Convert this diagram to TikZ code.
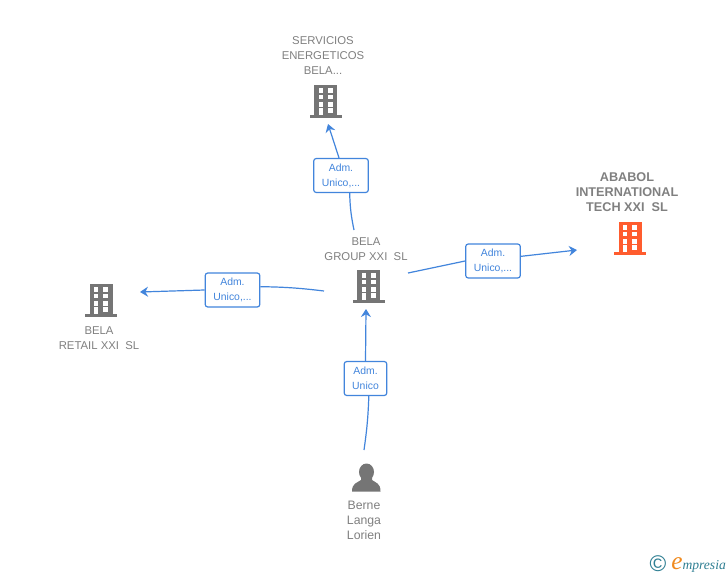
\documentclass[tikz,border=0pt]{standalone}
\usepackage{fontspec}
\setmainfont{Liberation Sans}
\newfontfamily\logofont{Liberation Serif}
\usetikzlibrary{arrows.meta,positioning}
\definecolor{iconGray}{HTML}{757575}
\definecolor{textGray}{HTML}{808080}
\definecolor{linkBlue}{HTML}{4285DC}
\definecolor{iconOrange}{HTML}{FF5C2E}
\definecolor{logoTeal}{HTML}{2F7F93}
\definecolor{logoOrange}{HTML}{F08A1E}
\tikzset{
  firm/.style={align=center, text=textGray, inner sep=0pt, font=\fontsize{8.5pt}{11.25pt}\selectfont},
  firmbold/.style={firm, font=\fontsize{9.5pt}{11.25pt}\selectfont\bfseries},
  person/.style={firm, font=\fontsize{9.2pt}{11.25pt}\selectfont},
  rolebox/.style={rectangle, rounded corners=2pt, draw=linkBlue, line width=0.9pt, fill=white, align=center, text=linkBlue, inner sep=0pt, font=\fontsize{7.8pt}{11.25pt}\selectfont},
  link/.style={draw=linkBlue, line width=0.9pt},
  linkto/.style={link, -{Stealth[length=6pt,width=7.5pt,inset=2pt]}},
  pics/bldg/.style={code={
    \fill[#1] (-11.5,0) rectangle (11.5,31);
    \fill[#1] (-16,30) rectangle (16,33.3);
    \foreach \y in {3.3,10,17.3}{
      \fill[white] (-7,\y) rectangle (-2.7,\y+4.4);
      \fill[white] (2.3,\y) rectangle (7.3,\y+4.4);
    }
    \fill[white] (-7,23.3) rectangle (-2.7,30);
    \fill[white] (2.3,23.3) rectangle (7.3,27.7);
  }}
}
\begin{document}
\begin{tikzpicture}[x=0.75pt,y=-0.75pt]
\useasboundingbox (0,0) rectangle (728,575);
\fill[white] (0,0) rectangle (728,575);
% icons
\pic at (325.5,85) {bldg=iconGray};
\pic at (368.5,270) {bldg=iconGray};
\pic at (630,222) {bldg=iconOrange};
\pic at (101,284) {bldg=iconGray};
\fill[iconGray] (366.5,472) ellipse (7.5 and 8.5);
\fill[iconGray] (361,476) -- (361,480) .. controls (357,483) and (352,483) .. (352,491.5) -- (380.5,491.5) .. controls (380.5,483) and (376,483) .. (372,480) -- (372,476) -- cycle;
% firm names
\node[firm] (nameServicios) at (323,55.5) {SERVICIOS\\ENERGETICOS\\BELA...};
\node[firm] (nameGroup) at (366,249) {BELA\\GROUP XXI\ \ SL};
\node[firmbold] (nameAbabol) at (627,192.5) {ABABOL\\INTERNATIONAL\\TECH XXI\ \ SL};
\node[firm] (nameRetail) at (99,338) {BELA\\RETAIL XXI\ \ SL};
\node[person] (nameBerne) at (364,520.5) {Berne\\Langa\\Lorien};
% role boxes
\node[rolebox,minimum width=41pt,minimum height=25.5pt] (roleTop) at (341,175.5) {\raisebox{-1pt}{Adm.}\\\raisebox{-1pt}{Unico,...}};
\node[rolebox,minimum width=41pt,minimum height=25.5pt] (roleRight) at (493,261) {\raisebox{-1pt}{Adm.}\\\raisebox{-1pt}{Unico,...}};
\node[rolebox,minimum width=41pt,minimum height=25.5pt] (roleLeft) at (232.5,290) {\raisebox{-1pt}{Adm.}\\\raisebox{-1pt}{Unico,...}};
\node[rolebox,minimum width=32pt,minimum height=25.5pt] (roleBottom) at (365.5,378.5) {\raisebox{-1pt}{Adm.}\\\raisebox{-1pt}{Unico}};
% free ends
\coordinate (groupTop) at (354,230);
\coordinate (tipTop) at (328,124);
\coordinate (groupRight) at (408,273);
\coordinate (tipRight) at (577,250);
\coordinate (groupLeft) at (324,291);
\coordinate (tipLeft) at (140,292);
\coordinate (groupBottom) at (366,309);
\coordinate (berneTop) at (364,450);
% connectors
\draw[link] (groupTop) to[bend left=5] ([xshift=6.5pt]roleTop.south);
\draw[linkto] ([xshift=-1.5pt]roleTop.north) -- (tipTop);
\draw[link] (groupRight) -- (roleRight.west);
\draw[linkto] ([yshift=3.5pt]roleRight.east) -- (tipRight);
\draw[link] (groupLeft) to[bend right=3] ([yshift=2.5pt]roleLeft.east);
\draw[linkto] (roleLeft.west) -- (tipLeft);
\draw[link] (berneTop) to[bend right=3] ([xshift=2.5pt]roleBottom.south);
\draw[linkto] (roleBottom.north) -- (groupBottom);
% logo
\node[text=logoTeal,inner sep=0pt,font=\fontsize{17pt}{17pt}\selectfont] (logoMark) at (658,564) {©};
\node[text=logoTeal,inner sep=0pt,anchor=base west,font=\logofont\itshape\fontsize{10.2pt}{12pt}\selectfont] (logoWord) at (671,569) {\textcolor{logoOrange}{\fontsize{19pt}{19pt}\selectfont e}mpresia};
\end{tikzpicture}
\end{document}
